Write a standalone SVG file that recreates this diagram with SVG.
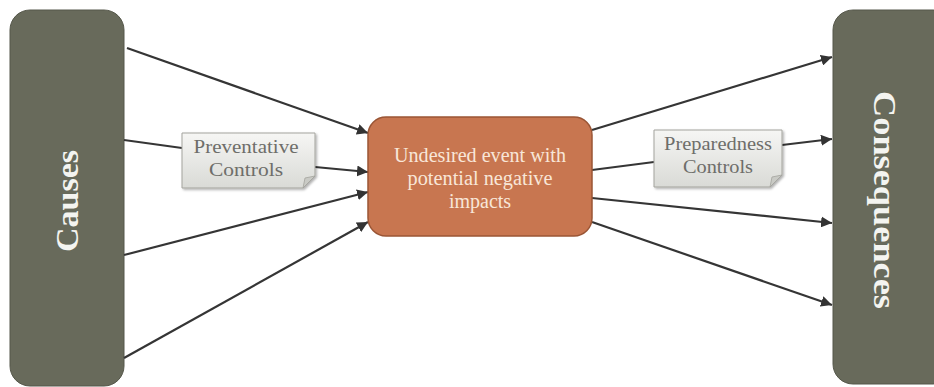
<svg xmlns="http://www.w3.org/2000/svg" width="934" height="387" viewBox="0 0 934 387">
<defs>
<marker id="ah" viewBox="0 0 10 10" refX="10" refY="5" markerWidth="5" markerHeight="5" orient="auto" markerUnits="strokeWidth">
<path d="M0,0 L10,5 L0,10 z" fill="#333"/>
</marker>
<linearGradient id="note" x1="0" y1="0" x2="0" y2="1">
<stop offset="0" stop-color="#f6f6f4"/>
<stop offset="1" stop-color="#d9dad6"/>
</linearGradient>
<filter id="sh" x="-10%" y="-10%" width="130%" height="130%">
<feDropShadow dx="1.5" dy="1.5" stdDeviation="1.2" flood-color="#000" flood-opacity="0.3"/>
</filter>
</defs>
<style>
.side{fill:#686a5b;stroke:#55574a;stroke-width:1}
.sidetxt{font-family:"Liberation Serif",serif;font-weight:bold;font-size:31px;fill:#f4f4f0;text-anchor:middle}
.conn line{stroke:#353535;stroke-width:2.2;fill:none}
.arr{marker-end:url(#ah)}
.ctrl{fill:url(#note);stroke:#a3a39d;stroke-width:1}
.ctrltxt{font-family:"Liberation Serif",serif;font-size:19px;fill:#6e6e6a;text-anchor:middle}
.evt{fill:#c87650;stroke:#9a5535;stroke-width:1.5}
.evttxt{font-family:"Liberation Serif",serif;font-size:20px;fill:#f8e6d8;text-anchor:middle}
</style>
<rect width="934" height="387" fill="#fff"/>
<g id="causes">
<rect class="side" x="10" y="10" width="114" height="376" rx="20" ry="20"/>
<text class="sidetxt" transform="translate(78,201) rotate(-90)" textLength="102" lengthAdjust="spacingAndGlyphs">Causes</text>
</g>
<g id="consequences">
<rect class="side" x="833" y="10" width="120" height="374" rx="20" ry="20"/>
<text class="sidetxt" transform="translate(874,200) rotate(90)" textLength="218" lengthAdjust="spacingAndGlyphs">Consequences</text>
</g>
<g id="connectors" class="conn">
<line class="arr" x1="127" y1="48" x2="368" y2="133"/>
<line x1="124" y1="140" x2="182" y2="148"/>
<line class="arr" x1="315" y1="167" x2="368" y2="172"/>
<line class="arr" x1="124" y1="255" x2="368" y2="192"/>
<line class="arr" x1="124" y1="358" x2="368" y2="222"/>
<line class="arr" x1="592" y1="130" x2="832" y2="57"/>
<line x1="592" y1="170" x2="654" y2="162"/>
<line class="arr" x1="782" y1="145" x2="832" y2="139"/>
<line class="arr" x1="592" y1="198" x2="832" y2="223"/>
<line class="arr" x1="592" y1="222" x2="832" y2="305"/>
</g>
<g id="preventative">
<path class="ctrl" filter="url(#sh)" d="M182,133 H315 V176 L303,188 H182 Z"/>
<path d="M315,176 L303,188 L305,178 Z" fill="#c9cac5" stroke="#a3a39d" stroke-width="0.8"/>
<text class="ctrltxt" x="246" y="153" textLength="105" lengthAdjust="spacingAndGlyphs">Preventative</text>
<text class="ctrltxt" x="246" y="176" textLength="74" lengthAdjust="spacingAndGlyphs">Controls</text>
</g>
<g id="preparedness">
<path class="ctrl" filter="url(#sh)" d="M654,130 H782 V175 L770,187 H654 Z"/>
<path d="M782,175 L770,187 L772,177 Z" fill="#c9cac5" stroke="#a3a39d" stroke-width="0.8"/>
<text class="ctrltxt" x="718" y="150" textLength="108" lengthAdjust="spacingAndGlyphs">Preparedness</text>
<text class="ctrltxt" x="718" y="173" textLength="70" lengthAdjust="spacingAndGlyphs">Controls</text>
</g>
<g id="event">
<rect class="evt" x="368" y="117" width="224" height="119" rx="18" ry="18"/>
<text class="evttxt" x="480" y="162" textLength="172" lengthAdjust="spacingAndGlyphs">Undesired event with</text>
<text class="evttxt" x="480" y="185" textLength="145" lengthAdjust="spacingAndGlyphs">potential negative</text>
<text class="evttxt" x="480" y="208">impacts</text>
</g>
</svg>
